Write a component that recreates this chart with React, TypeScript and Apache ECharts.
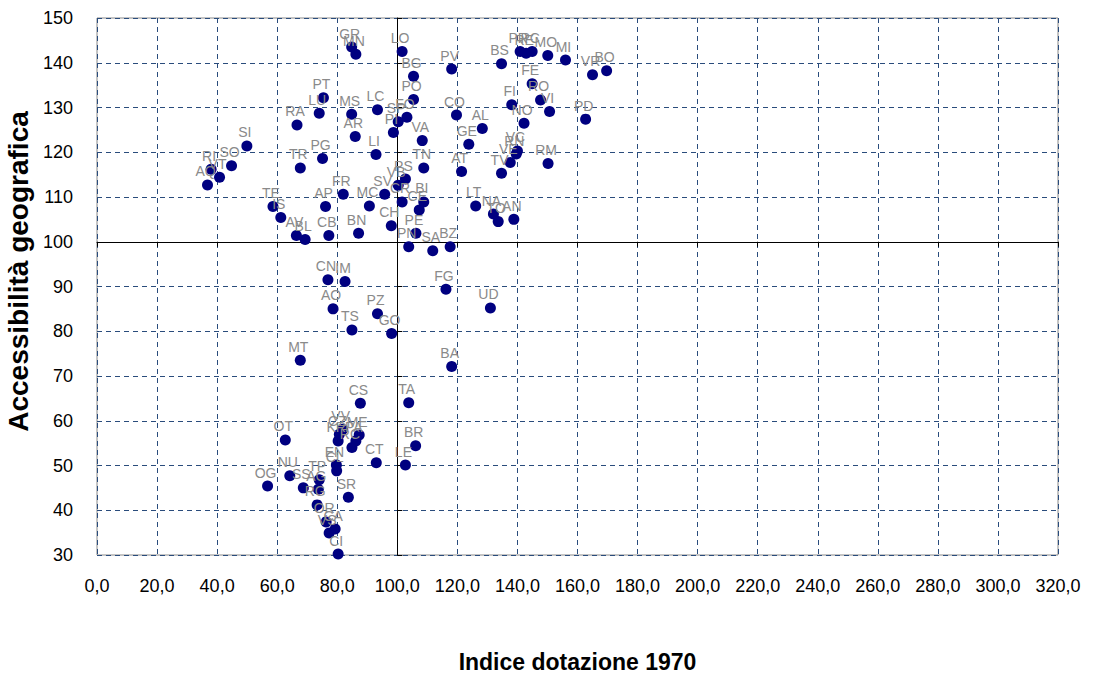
import React, { useEffect, useRef } from "react";
import * as echarts from "echarts";

// Province codes with their infrastructure endowment index (1970) and geographic accessibility
const provinces = [
  "SI", "SO", "VT", "RI", "AQ", "TE", "IS", "AV", "BL", "TR", "PG", "RA", "AP", "CB",
  "GR", "MN", "LO", "PV", "BG", "PO", "PT", "LU", "MS", "LC", "FO", "SP", "PI", "AR",
  "LI", "VA", "TN", "PS", "VB", "SV", "CR", "MC", "FR", "BI", "CE", "CH", "BN", "PE",
  "PN", "SA", "BZ", "BS", "PR", "RE", "PC", "MO", "MI", "VR", "BO", "FE", "RO", "FI",
  "VI", "NO", "PD", "CO", "AL", "GE", "VC", "RN", "VE", "TV", "AT", "RM", "LT", "NA",
  "TO", "AN", "CN", "IM", "AO", "PZ", "TS", "GO", "MT", "FG", "UD", "BA", "TA", "BR",
  "LE", "CS", "CT", "VV", "CZ", "ME", "PA", "RC", "KR", "EN", "CL", "TP", "AG", "SS",
  "RG", "SR", "OR", "CA", "VS", "CI", "NU", "OG", "OT",
];

const dotazione = [
  49.9, 44.8, 40.8, 38.0, 36.8, 58.6, 61.2, 66.4, 69.3, 67.7, 75.1, 66.6, 76.1, 77.2,
  84.8, 86.2, 101.6, 118.1, 105.4, 105.4, 75.4, 74.0, 84.8, 93.4, 103.2, 100.3, 98.7, 86.0,
  92.9, 108.3, 108.8, 102.7, 100.3, 95.8, 101.6, 90.7, 82.0, 108.8, 107.3, 98.0, 87.1, 106.2,
  103.8, 111.8, 117.6, 134.7, 140.9, 142.9, 144.9, 150.1, 156.0, 165.0, 169.7, 144.9, 147.7, 138.1,
  150.7, 142.2, 162.7, 119.7, 128.3, 123.8, 140.0, 139.6, 137.6, 134.7, 121.4, 150.2, 126.1, 132.0,
  133.6, 138.8, 76.9, 82.6, 78.6, 93.4, 84.9, 98.1, 67.7, 116.2, 131.0, 118.1, 103.8, 106.1,
  102.7, 87.7, 93.0, 81.8, 80.7, 87.3, 86.2, 84.9, 80.3, 79.7, 79.8, 74.0, 73.7, 68.7,
  73.3, 83.7, 76.3, 79.3, 77.3, 80.3, 64.2, 56.8, 62.7,
];

const accessibilita = [
  121.4, 117.0, 114.4, 116.2, 112.7, 107.9, 105.4, 101.4, 100.5, 116.5, 118.6, 126.1, 107.9, 101.4,
  143.5, 141.9, 142.5, 138.6, 137.0, 131.8, 132.2, 128.7, 128.5, 129.5, 127.8, 126.8, 124.4, 123.5,
  119.5, 122.6, 116.5, 114.0, 112.6, 110.6, 108.9, 108.0, 110.6, 108.9, 107.1, 103.6, 101.9, 101.9,
  98.9, 98.0, 98.9, 139.8, 142.5, 142.1, 142.5, 141.6, 140.6, 137.3, 138.2, 135.3, 131.7, 130.6,
  129.1, 126.5, 127.4, 128.3, 125.3, 121.8, 120.3, 119.6, 117.7, 115.3, 115.7, 117.5, 108.0, 106.2,
  104.5, 105.0, 91.5, 91.1, 85.0, 83.9, 80.3, 79.5, 73.5, 89.4, 85.2, 72.1, 64.0, 54.4,
  50.1, 63.9, 50.6, 58.1, 57.0, 56.8, 55.5, 54.0, 55.5, 50.1, 48.8, 46.8, 44.7, 45.0,
  41.2, 42.9, 37.4, 35.8, 34.9, 30.2, 47.7, 45.4, 55.7,
];

// Axis ranges and the reference value where the two crossing axes meet
const xRange = { min: 0, max: 320, step: 20 };
const yRange = { min: 30, max: 150, step: 10 };
const crossAt = { x: 100, y: 100 };

const WIDTH = 1095;
const HEIGHT = 680;
const GRID = { left: 97, right: 37, top: 18, bottom: 125 };

const FONT = "'Liberation Sans', Arial, Helvetica, sans-serif";

export default function App() {
  const ref = useRef<HTMLDivElement>(null);

  useEffect(() => {
    if (!ref.current) return;
    const chart = echarts.init(ref.current, null, { renderer: "svg" });

    const plotW = WIDTH - GRID.left - GRID.right;
    const plotH = HEIGHT - GRID.top - GRID.bottom;
    // distance of the crossing lines from the bottom / left edges of the plot
    const crossOffsetY = (plotH * (crossAt.y - yRange.min)) / (yRange.max - yRange.min);
    const crossOffsetX = (plotW * (crossAt.x - xRange.min)) / (xRange.max - xRange.min);

    const gridLine = { show: true, lineStyle: { color: "#2a4c7c", type: [5, 4] as number[], width: 1 } };

    const points = provinces.map((p, i) => ({ name: p, value: [dotazione[i], accessibilita[i]] }));

    chart.setOption({
      animation: false,
      backgroundColor: "#ffffff",
      grid: {
        ...GRID,
        outerBoundsMode: "none",
        containLabel: false,
        show: true,
        borderColor: "#8a8a8a",
        borderWidth: 1,
        backgroundColor: "transparent",
      },
      xAxis: [
        {
          type: "value",
          min: xRange.min,
          max: xRange.max,
          interval: xRange.step,
          position: "bottom",
          axisLine: { show: false },
          axisTick: { show: false },
          axisLabel: {
            margin: 22,
            fontSize: 18,
            color: "#000",
            fontFamily: FONT,
            formatter: (v: number) => v.toFixed(1).replace(".", ","),
          },
          splitLine: gridLine,
          name: "Indice dotazione 1970",
          nameLocation: "middle",
          nameGap: 95,
          nameTextStyle: { fontSize: 23, fontWeight: "bold", color: "#000", fontFamily: FONT },
        },
        {
          type: "value",
          min: xRange.min,
          max: xRange.max,
          interval: xRange.step,
          position: "bottom",
          offset: -crossOffsetY,
          axisLine: { show: true, lineStyle: { color: "#000", width: 1 } },
          axisTick: { show: true, length: 5, lineStyle: { color: "#000" } },
          axisLabel: { show: false },
          splitLine: { show: false },
        },
      ],
      yAxis: [
        {
          type: "value",
          min: yRange.min,
          max: yRange.max,
          interval: yRange.step,
          position: "left",
          axisLine: { show: false },
          axisTick: { show: false },
          axisLabel: { margin: 24, fontSize: 18, color: "#000", fontFamily: FONT },
          splitLine: gridLine,
          name: "Accessibilità geografica",
          nameLocation: "middle",
          nameRotate: 90,
          nameGap: 52,
          nameTextStyle: {
            fontSize: 28,
            fontWeight: "bold",
            color: "#000",
            fontFamily: FONT,
            padding: [0, 0, 0, 30],
          },
        },
        {
          type: "value",
          min: yRange.min,
          max: yRange.max,
          interval: yRange.step,
          position: "left",
          offset: -crossOffsetX,
          axisLine: { show: true, lineStyle: { color: "#000", width: 1 } },
          axisTick: { show: true, inside: true, length: 5, lineStyle: { color: "#000" } },
          axisLabel: { show: false },
          splitLine: { show: false },
        },
      ],
      series: [
        {
          type: "scatter",
          xAxisIndex: 0,
          yAxisIndex: 0,
          data: points,
          clip: false,
          symbol: "circle",
          symbolSize: 11,
          itemStyle: { color: "#000080", opacity: 1 },
          label: {
            show: true,
            formatter: "{b}",
            position: "top",
            distance: 1,
            offset: [-2, 0],
            color: "#8a8a8a",
            fontSize: 14,
            fontFamily: FONT,
          },
          emphasis: { disabled: true },
          z: 5,
        },
      ],
    });

    return () => chart.dispose();
  }, []);

  return (
    <div
      ref={ref}
      style={{ position: "fixed", left: 0, top: 0, width: WIDTH, height: HEIGHT, background: "#fff" }}
    />
  );
}
